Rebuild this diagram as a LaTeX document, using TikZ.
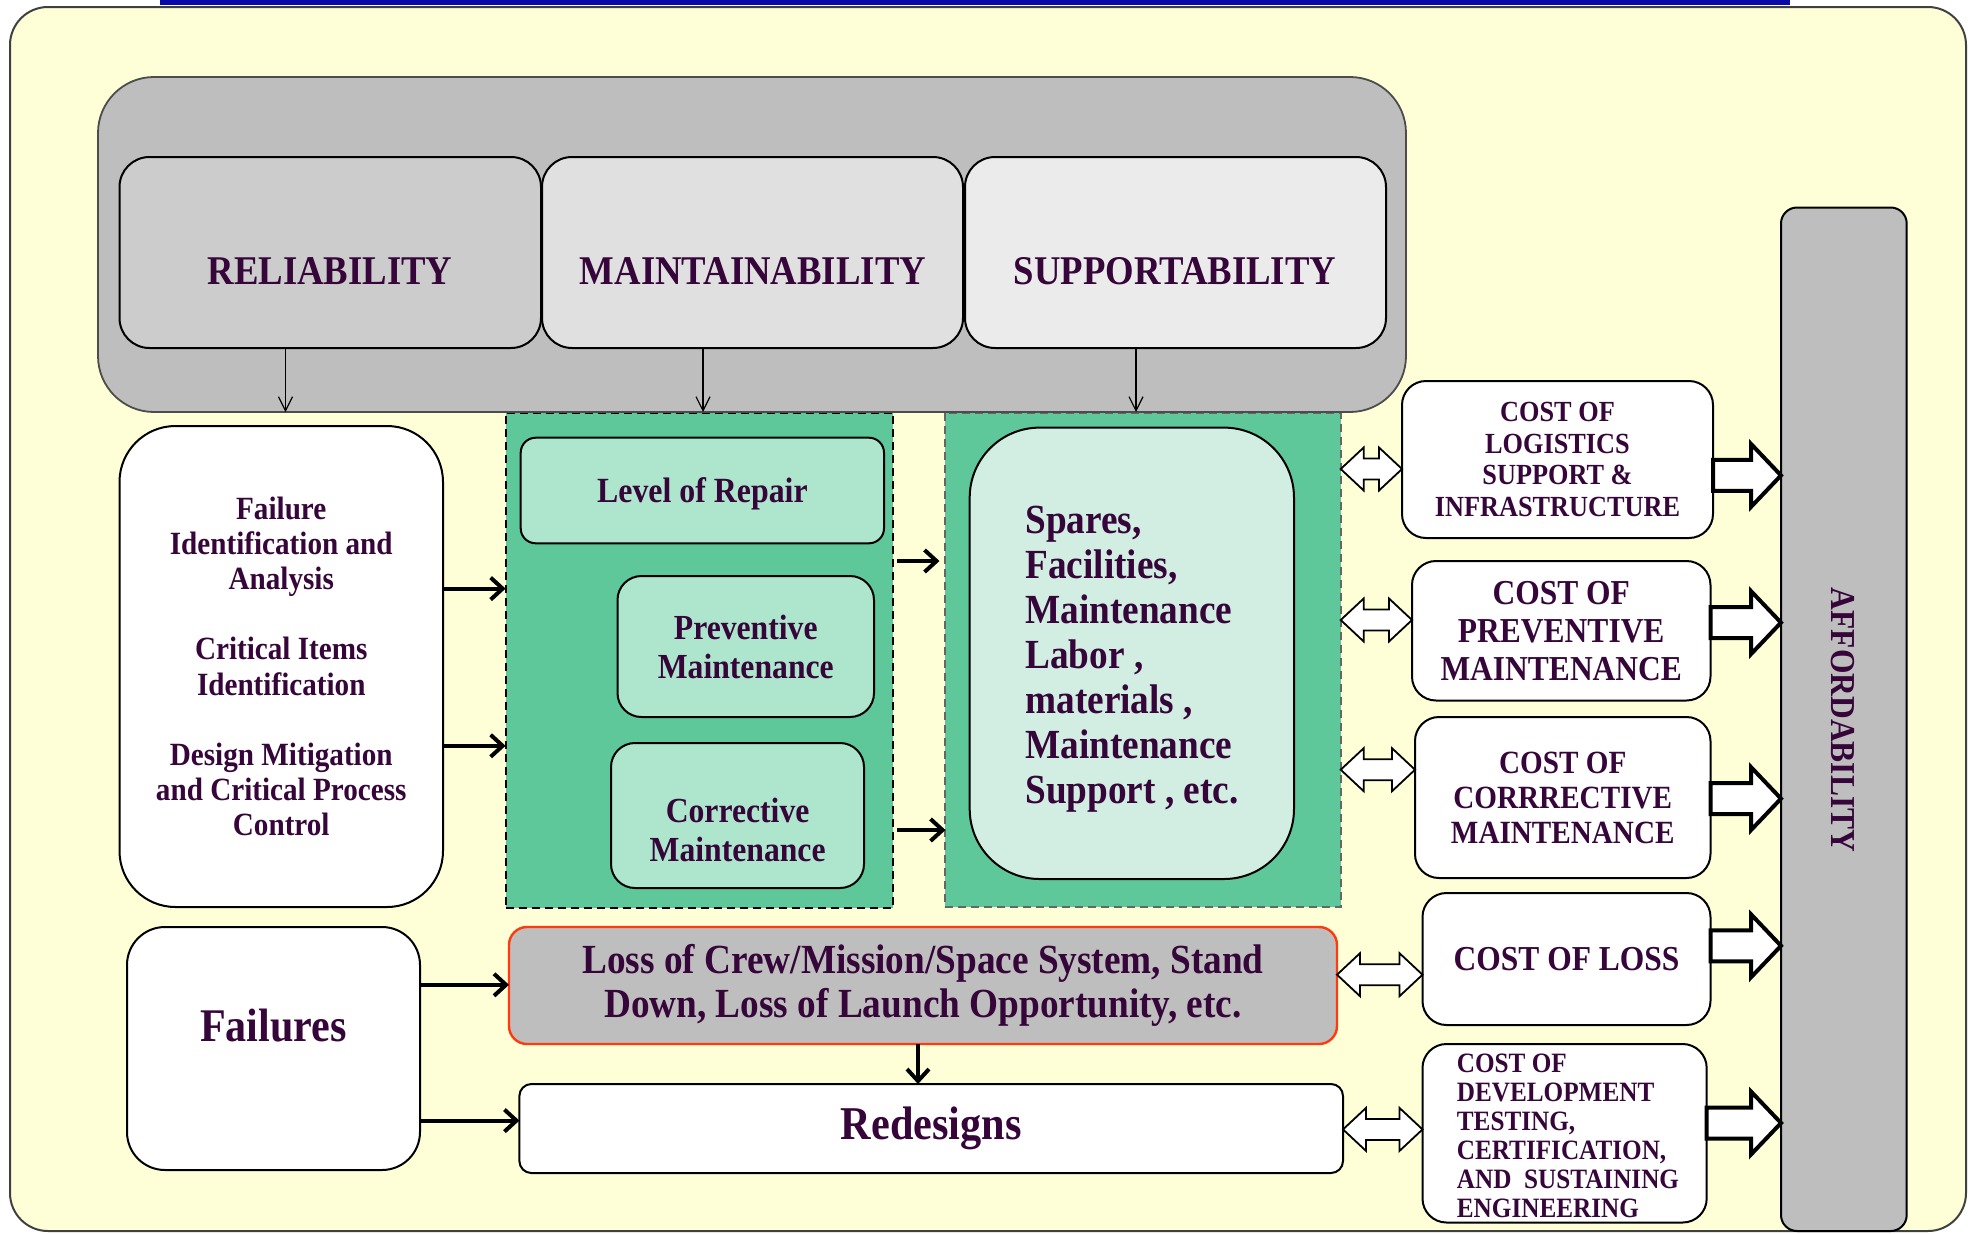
\documentclass[tikz,border=0pt]{standalone}
\usepackage{fontspec}
\newfontfamily\tf{Liberation Serif}[FakeStretch=0.9]
\usetikzlibrary{arrows.meta,calc}
\definecolor{frameY}{HTML}{FFFFD7}
\definecolor{grayB}{HTML}{BEBEBE}
\definecolor{relC}{HTML}{CCCCCC}
\definecolor{mntC}{HTML}{E0E0E0}
\definecolor{supC}{HTML}{EBEBEB}
\definecolor{grn}{HTML}{5EC89B}
\definecolor{lgrn}{HTML}{AEE5CD}
\definecolor{pgrn}{HTML}{D2EDE1}
\definecolor{tc}{HTML}{36063A}
\definecolor{redB}{HTML}{FF3A0E}
\definecolor{blueB}{HTML}{0A0AAA}
\newcommand\fs[2]{\fontsize{#1pt}{#2pt}\selectfont}
\newcommand\bx[7]{\node[#2, minimum width={(#5-#3)*0.5pt}, minimum height={(#6-#4)*0.5pt}] (#1) at ({(#3+#5)/2},{(#4+#6)/2}) {#7};}
\newcommand\dblarr[3]{\path[dbl] let \p1=(#1.east |- 0,#3), \p2=(#2.west |- 0,#3) in
  (\p1) -- (\x1+11.5pt,\y1+10.75pt) -- (\x1+11.5pt,\y1+5.25pt) -- (\x2-11.5pt,\y1+5.25pt)
  -- (\x2-11.5pt,\y1+10.75pt) -- (\p2) -- (\x2-11.5pt,\y1-10.75pt) -- (\x2-11.5pt,\y1-5.25pt)
  -- (\x1+11.5pt,\y1-5.25pt) -- (\x1+11.5pt,\y1-10.75pt) -- cycle;}
\newcommand\blkarr[3]{\path[blk] let \p1=(#1.east |- 0,#3), \p2=(#2.west |- 0,#3) in
  (\x1,\y1+7.75pt) -- (\x2-15pt,\y1+7.75pt) -- (\x2-15pt,\y1+15.75pt) -- (\p2)
  -- (\x2-15pt,\y1-15.75pt) -- (\x2-15pt,\y1-7.75pt) -- (\x1,\y1-7.75pt) -- cycle;}
\begin{document}
\begin{tikzpicture}[x=0.5pt,y=-0.5pt,
  box/.style={draw, line width=1pt, inner sep=0pt, outer sep=0pt},
  lbl/.style={text=tc, font=\tf\bfseries, inner sep=0pt, align=center},
  thinarr/.style={-{Straight Barb[length=7pt,width=7pt]}, line width=0.6pt},
  thickarr/.style={-{Straight Barb[length=6pt,width=11pt]}, line width=2pt},
  dbl/.style={draw=black, fill=white, line width=0.9pt, line join=miter},
  blk/.style={draw=black, fill=white, line width=2pt, line join=miter},
]
\useasboundingbox (0,0) rectangle (1972,1233);
% frame
\draw[fill=frameY, draw=black!75, line width=1pt, rounded corners=19pt] (10,7) rectangle (1966,1231);
\fill[blueB] (160,0) rectangle (1790,5);
% green panels
\bx{pa}{box, fill=grn, dashed, dash pattern=on 4pt off 2.5pt}{505.6}{412.5}{893}{908}{}
\bx{pb}{box, fill=grn, draw=black!60, dashed, dash pattern=on 4pt off 2.5pt}{944.5}{412.5}{1340.7}{906.8}{}
% big gray box
\bx{gbox}{box, fill=grayB, draw=black!70, line width=0.9pt, rounded corners=28pt}{98}{77}{1406}{412}{}
\bx{rel}{box, fill=relC, rounded corners=15pt}{119.5}{157}{541}{348}{}
\bx{mnt}{box, fill=mntC, rounded corners=15pt}{542}{157}{963}{348}{}
\bx{sup}{box, fill=supC, rounded corners=15pt}{965}{157}{1386}{348}{}
\node[lbl, font=\tf\bfseries\fs{20.4}{24}] (relT) at (330,271) {RELIABILITY};
\node[lbl, font=\tf\bfseries\fs{20.4}{24}] (mntT) at (753,271) {MAINTAINABILITY};
\node[lbl, font=\tf\bfseries\fs{20.4}{24}] (supT) at (1175,271) {SUPPORTABILITY};
\coordinate (ta) at (gbox.south -| 285.5,0);
\coordinate (tb) at (gbox.south -| 703,0);
\coordinate (tcc) at (gbox.south -| 1136,0);
\draw[thinarr] (rel.south -| ta) -- (ta);
\draw[thinarr] (mnt.south -| tb) -- (tb);
\draw[thinarr] (sup.south -| tcc) -- (tcc);
% left box
\bx{lbox}{box, fill=white, rounded corners=28pt, lbl, font=\tf\bfseries\fs{16.2}{17.6}}{119.5}{426}{443}{907}{Failure\\Identification and\\Analysis\\[17.6pt]Critical Items\\Identification\\[17.6pt]Design Mitigation\\and Critical Process\\Control}
% panel 1 content
\bx{lor}{box, fill=lgrn, rounded corners=7.5pt}{520.7}{437.7}{884}{543.3}{}
\node[lbl, font=\tf\bfseries\fs{17.7}{19}] (lorT) at (702.4,494) {Level of Repair};
\bx{pm}{box, fill=lgrn, rounded corners=12pt, lbl, font=\tf\bfseries\fs{17.6}{19.5}}{617.5}{576}{874}{717}{Preventive\\Maintenance}
\bx{cm}{box, fill=lgrn, rounded corners=12pt}{611}{743}{864}{888}{}
\node[lbl, font=\tf\bfseries\fs{17.6}{19.5}] (cmT) at (737.6,829.5) {Corrective\\Maintenance};
% panel 2 content
\bx{spr}{box, fill=pgrn, rounded corners=35pt}{969.7}{427.6}{1294}{879}{}
\node[lbl, align=left, font=\tf\bfseries\fs{20.7}{22.5}] (sprT) at (1132,659.5) {Spares,\\Facilities,\\Maintenance\\Labor ,\\materials ,\\Maintenance\\Support , etc.};
% cost boxes
\bx{cl}{box, fill=white, rounded corners=12pt, lbl, font=\tf\bfseries\fs{14.6}{15.9}}{1402}{381}{1713}{538}{COST OF\\LOGISTICS\\SUPPORT \&\\INFRASTRUCTURE}
\bx{cp}{box, fill=white, rounded corners=12pt, lbl, font=\tf\bfseries\fs{17.5}{19}}{1412}{561}{1710.5}{700.5}{COST OF\\PREVENTIVE\\MAINTENANCE}
\bx{cc}{box, fill=white, rounded corners=12pt, lbl, font=\tf\bfseries\fs{16.2}{17.5}}{1415}{717}{1710.5}{878}{COST OF\\CORRRECTIVE\\MAINTENANCE}
\bx{closs}{box, fill=white, rounded corners=12pt, lbl, font=\tf\bfseries\fs{17.5}{19}}{1422.5}{893}{1710.5}{1025}{COST OF LOSS}
\bx{cd}{box, fill=white, rounded corners=12pt}{1422.5}{1044}{1706.7}{1222.5}{}
\node[lbl, align=left, font=\tf\bfseries\fs{14}{14.5}] (cdT) at (1568,1136) {COST OF\\DEVELOPMENT\\TESTING,\\CERTIFICATION,\\AND\ \ SUSTAINING\\ENGINEERING};
% affordability bar
\bx{aff}{box, fill=grayB, rounded corners=8pt}{1781}{207.5}{1906.7}{1231}{}
\node[lbl, rotate=-90, font=\tf\bfseries\fs{17.5}{19}] (affT) at (1843,720) {AFFORDABILITY};
% lower boxes
\bx{loss}{box, fill=grayB, draw=redB, line width=1.2pt, rounded corners=9pt, lbl, font=\tf\bfseries\fs{20.7}{22}}{509}{927}{1337}{1044}{Loss of Crew/Mission/Space System, Stand\\Down, Loss of Launch Opportunity, etc.}
\bx{red}{box, fill=white, rounded corners=6pt, lbl, font=\tf\bfseries\fs{23.5}{25}}{519.4}{1084}{1343}{1173}{Redesigns}
\bx{fail}{box, fill=white, rounded corners=19pt}{127}{927}{420}{1170}{}
\node[lbl, font=\tf\bfseries\fs{23.4}{25}] (failT) at (273.5,1026) {Failures};
% thick arrows
\draw[thickarr] (lbox.east |- 0,588.6) -- (pa.west |- 0,588.6);
\draw[thickarr] (lbox.east |- 0,745.8) -- (pa.west |- 0,745.8);
\draw[thickarr] ([xshift=2pt]pa.east |- 0,561) -- ([xshift=-2.5pt]pb.west |- 0,561);
\draw[thickarr] ([xshift=2pt]pa.east |- 0,830) -- ([xshift=0.5pt]pb.west |- 0,830);
\draw[thickarr] (fail.east |- 0,984.8) -- (loss.west |- 0,984.8);
\draw[thickarr] (fail.east |- 0,1120.6) -- (red.west |- 0,1120.6);
\draw[thickarr] (loss.south -| 918,0) -- (red.north -| 918,0);
% double arrows
\dblarr{pb}{cl}{469}
\dblarr{pb}{cp}{620}
\dblarr{pb}{cc}{769.7}
\dblarr{loss}{closs}{974.7}
\dblarr{red}{cd}{1129.4}
% block arrows
\blkarr{cl}{aff}{475.4}
\blkarr{cp}{aff}{622.6}
\blkarr{cc}{aff}{798.6}
\blkarr{closs}{aff}{945.8}
\blkarr{cd}{aff}{1123}
\end{tikzpicture}
\end{document}
